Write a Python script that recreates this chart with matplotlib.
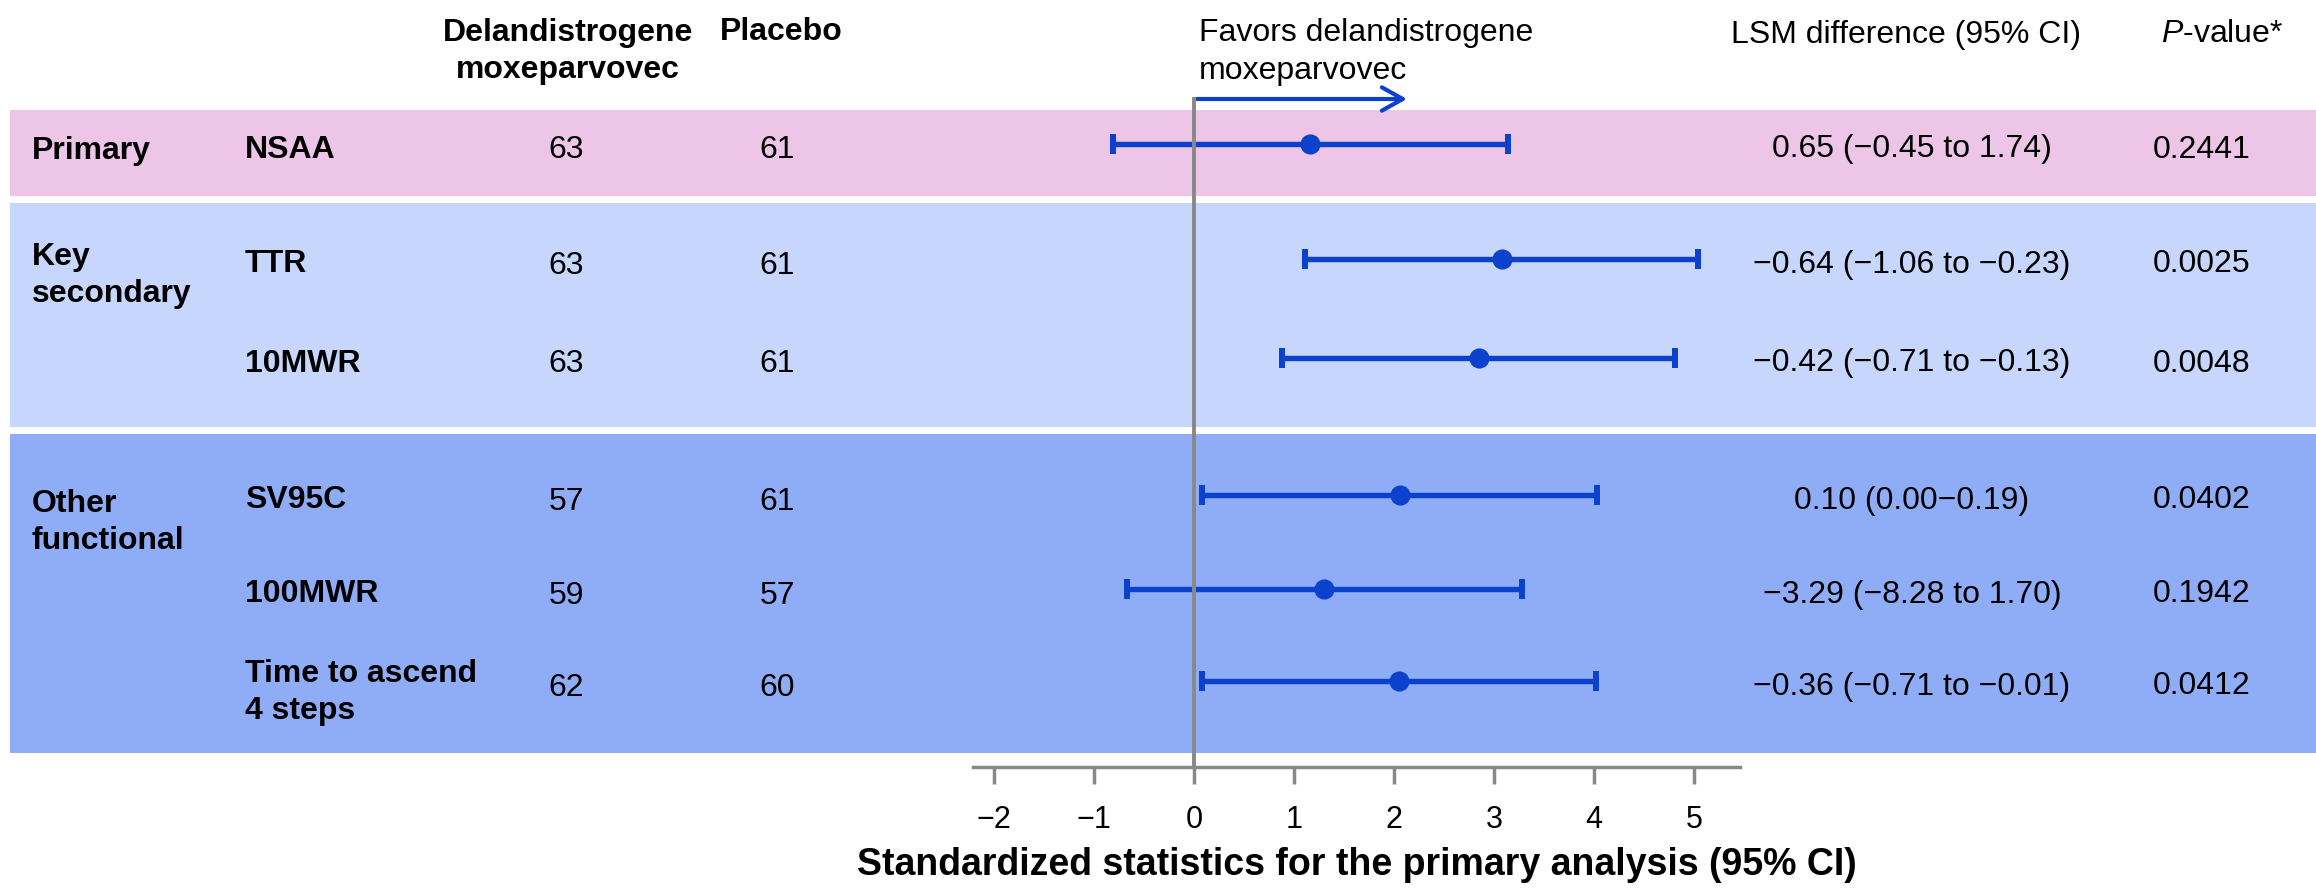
import matplotlib
matplotlib.use("Agg")
import matplotlib.pyplot as plt
from matplotlib.patches import Rectangle
from matplotlib.transforms import blended_transform_factory

plt.rcParams['font.family'] = 'Liberation Sans'
plt.rcParams['mathtext.fontset'] = 'custom'
plt.rcParams['mathtext.rm'] = 'Liberation Sans'
plt.rcParams['mathtext.it'] = 'Liberation Sans:italic'

### Data
groups = ["Primary", "Key\nsecondary", "Other\nfunctional"]
outcomes = ["NSAA", "TTR", "10MWR", "SV95C", "100MWR", "Time to ascend\n4 steps"]
n_treated = [63, 63, 63, 57, 59, 62]
n_placebo = [61, 61, 61, 61, 57, 60]
std_est = [1.16, 3.08, 2.85, 2.06, 1.30, 2.05]
std_low = [-0.81, 1.11, 0.88, 0.08, -0.67, 0.08]
std_high = [3.14, 5.04, 4.81, 4.03, 3.28, 4.02]
lsm_diff = ["0.65 (\u22120.45 to 1.74)",
            "\u22120.64 (\u22121.06 to \u22120.23)",
            "\u22120.42 (\u22120.71 to \u22120.13)",
            "0.10 (0.00\u22120.19)",
            "\u22123.29 (\u22128.28 to 1.70)",
            "\u22120.36 (\u22120.71 to \u22120.01)"]
p_values = ["0.2441", "0.0025", "0.0048", "0.0402", "0.1942", "0.0412"]
x_ticks = [-2, -1, 0, 1, 2, 3, 4, 5]

### Layout, in pixels from the top-left corner
W, H = 2316, 890
row_y = [144, 259, 358, 495, 589, 681]
group_y = [148, 253, 500]
band_spans = [(110, 196), (203, 427), (434, 753)]
band_colors = ["#ECC5E7", "#C7D6FD", "#8FADF7"]
axis_y = 767
blue = "#0B41CC"
grey = "#888888"
FS = 23
LS = 1.33
CAP = 11.5   # half cap height at FS, used to place multi-line labels by their top

fig = plt.figure(figsize=(W / 100, H / 100), dpi=100)
ax = fig.add_axes([973 / W, (H - axis_y) / H, (1740 - 973) / W, axis_y / H])
ax.set_xlim(-2.21, 5.46)
ax.set_ylim(axis_y, 0)
ax.patch.set_visible(False)

# x in figure fraction, y in row units
tr = blended_transform_factory(fig.transFigure, ax.transData)


def put(x, y, s, ha='left', **kw):
    # y is the centre of the first line's capitals
    if "\n" in s:
        ax.text(x / W, y - CAP, s, transform=tr, ha=ha, va='top',
                fontsize=kw.pop('fontsize', FS), linespacing=LS, **kw)
    else:
        ax.text(x / W, y, s, transform=tr, ha=ha, va='center_baseline',
                fontsize=kw.pop('fontsize', FS), **kw)


### Coloured group bands
for (top, bottom), col in zip(band_spans, band_colors):
    ax.add_patch(Rectangle((10 / W, top), 1 - 10 / W, bottom - top, transform=tr,
                           facecolor=col, edgecolor='none', clip_on=False, zorder=0))

### Column headers
put(568, 29, "Delandistrogene\nmoxeparvovec", ha='center', fontweight='bold')
put(781, 29, "Placebo", ha='center', fontweight='bold')
put(1199, 30, "Favors delandistrogene\nmoxeparvovec")
put(1906, 31, "LSM difference (95% CI)", ha='center')
put(2222, 30, r"$\it{P}$-value*", ha='center')

### Row labels and table columns
for g, y in zip(groups, group_y):
    put(32, y, g, fontweight='bold')

for i, y in enumerate(row_y):
    ly = y + 2 if "\n" not in outcomes[i] else y - 11
    put(245, ly, outcomes[i], fontweight='bold')
    put(566, y + 3, str(n_treated[i]), ha='center')
    put(777, y + 3, str(n_placebo[i]), ha='center')
    put(1912, y + 2, lsm_diff[i], ha='center')
    put(2202, y + 2, p_values[i], ha='center')

### Forest plot
xerr = [[e - l for e, l in zip(std_est, std_low)],
        [h - e for h, e in zip(std_high, std_est)]]
ax.errorbar(std_est, row_y, xerr=xerr, fmt='o', color=blue, ms=13.5,
            elinewidth=3.9, capsize=7.5, capthick=4.3, zorder=3, clip_on=False)

ax.vlines(0, 97, axis_y, color=grey, lw=2.8, zorder=4, clip_on=False)
ax.annotate("", xy=(2.13, 99), xytext=(0.03, 99),
            arrowprops=dict(arrowstyle="->,head_length=0.75,head_width=0.42",
                            color=blue, lw=3, shrinkA=0, shrinkB=0,
                            mutation_scale=20),
            annotation_clip=False)

### Axis
for s in ['top', 'left', 'right']:
    ax.spines[s].set_visible(False)
ax.spines['bottom'].set_color(grey)
ax.spines['bottom'].set_linewidth(2.5)
ax.set_yticks([])
ax.set_xticks(x_ticks)
ax.tick_params(axis='x', direction='out', length=12, width=2.5, color=grey,
               labelsize=22, pad=15)
ax.set_xlabel("Standardized statistics for the primary analysis (95% CI)",
              fontsize=27, fontweight='bold', labelpad=9)

fig.savefig("out.png", dpi=100)
